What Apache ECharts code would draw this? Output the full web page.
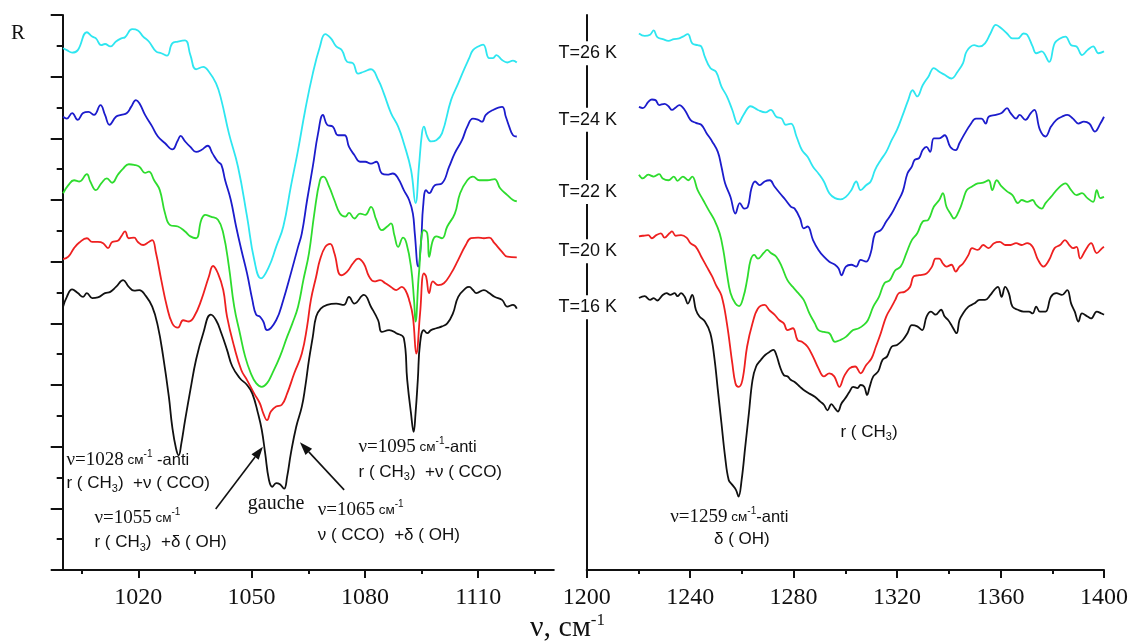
<!DOCTYPE html>
<html>
<head>
<meta charset="utf-8">
<script src="https://cdn.jsdelivr.net/npm/echarts@6/dist/echarts.min.js"></script>
<style>
  html, body { margin: 0; padding: 0; background: #ffffff; }
  #chart { width: 1134px; height: 641px; }
</style>
</head>
<body>
<div id="chart"></div>
<script>
// Reflection spectra of ethanol film, curves offset vertically (R, arb. units).
// Left window: 1000-1120 cm^-1, right window: 1220-1400 cm^-1.

const temps = ['T=26 K', 'T=24 K', 'T=22 K', 'T=20 K', 'T=16 K'];
const colors = ['#2ee6f0', '#1c1ccc', '#2edc2e', '#ee2020', '#111111'];

// ---- left window ----
const wnL26 = [1000.1,1001.1,1002.5,1004.0,1006.4,1007.8,1008.8,1010.2,1011.2,1012.6,1014.1,1015.5,1016.5,1018.4,1019.9,1021.3,1022.8,1024.7,1026.1,1027.6,1029.0,1030.5,1032.4,1033.8,1035.3,1037.2,1038.7,1040.6,1042.0,1044.0,1046.4,1048.8,1050.7,1052.5,1054.6,1056.5,1058.4,1060.4,1062.3,1064.2,1066.2,1068.1,1069.5,1071.0,1072.4,1073.9,1075.3,1076.8,1078.2,1079.7,1081.6,1083.5,1085.0,1086.9,1088.8,1090.3,1092.2,1093.4,1094.3,1095.1,1095.6,1096.5,1097.5,1098.9,1100.4,1102.8,1104.7,1106.2,1107.6,1108.6,1110.0,1111.3,1112.9,1113.9,1114.8,1116.3,1117.7,1119.2,1120.2];
const rL26 = [8.46,8.43,8.39,8.43,8.72,8.65,8.62,8.51,8.53,8.49,8.57,8.62,8.64,8.77,8.75,8.65,8.57,8.41,8.38,8.34,8.54,8.57,8.59,8.35,8.12,8.16,8.08,7.89,7.62,7.08,6.54,5.73,5.03,4.73,4.92,5.24,5.57,6.22,6.81,7.46,8.05,8.49,8.69,8.62,8.49,8.43,8.24,8.22,8.05,8.08,8.12,7.95,7.73,7.41,7.19,6.92,6.49,5.95,6.54,7.08,7.19,7.03,6.95,6.97,7.08,7.62,7.89,8.11,8.30,8.43,8.49,8.52,8.30,8.30,8.35,8.27,8.23,8.26,8.23];

const wnL24 = [1000.1,1001.1,1002.5,1004.0,1005.4,1006.8,1008.3,1010.0,1011.2,1012.4,1014.1,1015.5,1017.0,1018.1,1019.4,1020.3,1021.8,1023.7,1025.2,1027.1,1029.0,1030.5,1031.2,1032.4,1033.8,1035.3,1036.7,1038.4,1039.6,1041.1,1042.0,1043.0,1044.5,1045.9,1047.3,1048.8,1050.2,1051.2,1052.2,1053.1,1054.1,1056.5,1058.4,1060.4,1062.3,1063.3,1064.7,1066.2,1067.6,1068.9,1070.0,1071.5,1072.9,1074.6,1075.8,1077.2,1078.7,1080.1,1081.6,1083.0,1084.5,1085.9,1087.4,1088.8,1090.3,1091.7,1092.7,1093.2,1094.1,1094.9,1095.4,1096.2,1097.0,1098.5,1100.4,1102.3,1103.8,1105.7,1107.1,1108.6,1110.0,1111.0,1112.0,1113.9,1116.3,1117.3,1118.2,1119.2,1120.2];
const rL24 = [7.35,7.32,7.41,7.30,7.41,7.43,7.38,7.54,7.38,7.22,7.35,7.38,7.41,7.51,7.62,7.57,7.38,7.19,7.03,6.92,6.82,6.97,7.04,6.95,6.86,6.78,6.81,6.88,6.76,6.62,6.57,6.32,6.00,5.57,5.19,4.81,4.38,4.14,4.11,4.03,3.89,4.05,4.38,4.81,5.24,5.46,6.00,6.54,7.08,7.38,7.22,7.19,7.05,7.05,6.86,6.73,6.62,6.62,6.59,6.62,6.43,6.41,6.43,6.35,6.16,6.00,5.78,5.46,4.92,5.35,5.89,6.16,6.11,6.24,6.27,6.54,6.76,6.97,7.19,7.32,7.30,7.27,7.38,7.46,7.51,7.35,7.19,7.05,7.03];

const wnL22 = [1000.1,1001.5,1003.0,1004.4,1006.4,1007.3,1008.8,1010.2,1011.7,1013.1,1014.6,1016.0,1017.5,1018.9,1020.3,1021.8,1022.8,1024.2,1025.7,1027.1,1028.5,1030.5,1032.4,1033.8,1035.3,1036.7,1037.7,1039.2,1041.1,1042.5,1044.0,1045.4,1046.9,1048.3,1049.8,1051.2,1052.7,1054.1,1055.5,1057.5,1059.4,1060.8,1062.3,1063.7,1065.2,1066.6,1068.1,1069.0,1070.5,1071.9,1073.4,1074.8,1075.8,1077.2,1078.7,1080.1,1081.6,1083.0,1084.5,1085.9,1086.9,1087.8,1088.8,1090.1,1091.0,1092.2,1093.0,1093.4,1094.3,1095.6,1096.5,1097.0,1098.0,1098.9,1100.4,1101.8,1103.8,1105.2,1107.1,1108.6,1110.3,1112.4,1114.3,1115.8,1117.7,1119.2,1120.2];
const rL22 = [6.11,6.24,6.32,6.30,6.42,6.30,6.16,6.27,6.35,6.28,6.41,6.51,6.58,6.57,6.54,6.44,6.46,6.32,6.16,5.78,5.59,5.57,5.49,5.41,5.38,5.68,5.76,5.73,5.68,5.46,4.92,4.27,3.84,3.46,3.19,3.03,2.97,3.03,3.19,3.46,3.78,4.00,4.27,4.70,5.14,5.78,6.32,6.38,6.22,6.00,5.78,5.73,5.79,5.70,5.78,5.76,5.89,5.68,5.51,5.57,5.62,5.43,5.24,5.39,5.30,4.92,4.38,4.03,4.81,5.51,5.46,5.08,5.35,5.41,5.38,5.57,5.78,6.11,6.32,6.38,6.32,6.32,6.34,6.19,6.08,6.00,5.98];

const wnL20 = [1000.1,1001.5,1003.0,1004.4,1006.4,1007.8,1009.3,1010.7,1012.0,1013.1,1014.6,1015.5,1016.5,1017.5,1018.9,1019.9,1021.3,1022.8,1023.7,1024.7,1026.1,1027.6,1029.0,1030.5,1031.9,1033.4,1034.8,1036.7,1038.7,1039.8,1041.1,1042.5,1043.5,1045.4,1047.3,1048.8,1050.7,1052.2,1053.1,1054.1,1055.1,1056.5,1058.0,1059.4,1061.3,1063.3,1064.7,1065.7,1067.1,1068.1,1069.5,1070.8,1071.9,1073.7,1075.3,1076.8,1078.2,1079.7,1081.1,1082.5,1084.0,1085.4,1086.9,1088.3,1089.8,1090.7,1091.7,1092.7,1093.6,1094.6,1095.6,1096.2,1097.0,1098.0,1099.4,1100.9,1102.8,1104.7,1106.7,1108.1,1110.0,1111.5,1112.9,1114.3,1116.3,1117.7,1120.2];
const rL20 = [5.04,5.08,5.22,5.31,5.38,5.32,5.32,5.30,5.22,5.32,5.34,5.41,5.49,5.38,5.39,5.32,5.27,5.32,5.35,5.14,4.70,4.27,4.00,3.93,4.05,4.03,4.11,4.38,4.76,4.93,4.81,4.54,4.11,3.62,3.24,3.08,2.86,2.70,2.54,2.43,2.57,2.65,2.68,2.86,3.19,3.51,3.95,4.38,4.76,5.03,5.24,5.29,5.14,4.78,4.84,4.97,5.05,4.97,4.76,4.68,4.70,4.65,4.59,4.54,4.59,4.54,4.38,4.11,3.51,4.16,4.81,4.76,4.49,4.68,4.62,4.65,4.81,5.03,5.27,5.38,5.39,5.38,5.39,5.30,5.16,5.08,5.07];

const wnL16 = [1000.1,1001.1,1002.5,1004.0,1005.4,1006.4,1007.8,1009.3,1011.2,1012.6,1014.1,1016.0,1017.5,1018.9,1020.3,1021.8,1023.7,1025.2,1026.6,1028.1,1029.0,1030.0,1030.7,1031.4,1032.4,1033.8,1035.3,1037.2,1039.2,1040.6,1042.0,1043.5,1044.9,1046.9,1048.8,1050.2,1051.7,1052.7,1053.6,1054.6,1055.5,1056.5,1057.5,1058.6,1059.4,1060.4,1061.8,1063.3,1064.2,1065.2,1066.2,1067.1,1068.3,1070.0,1072.4,1074.4,1075.8,1077.2,1079.7,1081.6,1083.5,1084.5,1086.4,1088.3,1090.3,1091.2,1092.2,1092.9,1093.4,1094.0,1094.6,1095.6,1096.5,1097.5,1098.9,1100.4,1101.8,1103.3,1104.7,1106.7,1107.6,1108.6,1109.5,1111.5,1112.9,1114.3,1116.3,1117.7,1119.2,1120.2];
const rL16 = [4.27,4.43,4.55,4.49,4.43,4.49,4.41,4.42,4.49,4.51,4.59,4.70,4.59,4.53,4.54,4.46,4.27,3.95,3.46,2.81,2.32,1.97,1.86,2.05,2.43,2.92,3.41,3.84,4.14,4.05,3.84,3.57,3.30,3.11,3.00,2.86,2.54,2.27,1.89,1.46,1.35,1.41,1.39,1.32,1.51,1.89,2.32,2.65,2.97,3.41,3.78,4.11,4.24,4.30,4.32,4.30,4.43,4.32,4.46,4.27,4.05,3.86,3.89,3.84,3.76,3.08,2.54,2.24,2.54,3.08,3.68,3.89,3.84,3.89,3.92,3.95,4.00,4.16,4.43,4.57,4.59,4.54,4.49,4.54,4.49,4.43,4.38,4.27,4.30,4.24];

// ---- right window ----
const wnR26 = [1220.2,1222.4,1224.5,1225.9,1227.3,1229.4,1231.6,1233.7,1235.8,1237.2,1239.1,1240.8,1242.9,1244.3,1245.7,1247.8,1250.0,1252.1,1254.2,1256.3,1258.5,1260.6,1263.4,1266.2,1269.1,1271.2,1273.3,1275.4,1276.9,1279.0,1281.1,1283.2,1285.4,1287.5,1289.6,1291.7,1293.8,1296.0,1298.1,1300.2,1302.3,1304.2,1305.9,1308.0,1309.8,1311.5,1313.7,1315.8,1317.9,1320.0,1322.2,1324.3,1326.0,1327.8,1329.9,1332.1,1334.2,1336.3,1338.4,1341.0,1343.4,1345.5,1346.9,1349.8,1351.9,1354.0,1356.1,1358.2,1360.4,1362.5,1364.6,1366.7,1368.9,1370.3,1372.4,1373.8,1375.9,1378.8,1380.9,1383.0,1385.1,1387.3,1389.4,1391.5,1393.6,1395.8,1397.9,1400.0];
const rR26 = [8.70,8.66,8.68,8.75,8.64,8.61,8.58,8.61,8.62,8.65,8.69,8.54,8.51,8.49,8.32,8.14,8.08,7.84,7.68,7.46,7.23,7.38,7.52,7.46,7.42,7.46,7.35,7.32,7.22,7.24,7.03,6.81,6.70,6.54,6.43,6.30,6.11,6.03,6.01,6.05,6.16,6.30,6.16,6.24,6.30,6.49,6.65,6.78,6.97,7.14,7.38,7.62,7.78,7.68,7.86,8.00,8.14,8.08,8.03,7.97,8.08,8.22,8.41,8.51,8.49,8.54,8.70,8.84,8.78,8.70,8.62,8.62,8.70,8.68,8.49,8.38,8.41,8.24,8.54,8.62,8.65,8.51,8.49,8.35,8.43,8.49,8.38,8.41];

const wnR24 = [1220.2,1221.7,1223.8,1225.2,1226.6,1228.0,1230.1,1231.6,1233.0,1234.4,1235.8,1237.9,1240.1,1242.2,1244.3,1246.4,1248.5,1250.7,1252.1,1253.5,1255.6,1257.5,1259.2,1260.9,1262.3,1263.7,1265.1,1266.9,1268.8,1270.8,1272.6,1274.7,1276.9,1279.0,1280.4,1282.5,1283.9,1285.4,1287.5,1289.6,1291.7,1293.8,1296.0,1297.4,1298.5,1300.2,1302.3,1304.2,1305.9,1308.0,1309.8,1311.5,1313.7,1315.8,1317.9,1320.0,1322.2,1324.0,1325.7,1326.8,1328.5,1329.9,1331.4,1332.8,1334.2,1336.3,1338.4,1340.6,1342.7,1344.1,1346.2,1348.3,1350.5,1352.6,1354.3,1355.4,1358.2,1360.4,1362.5,1363.9,1366.0,1367.4,1369.6,1371.7,1373.1,1375.2,1377.4,1379.5,1381.6,1383.7,1385.8,1388.0,1390.1,1392.2,1394.3,1396.5,1398.6,1400.0];
const rR24 = [7.51,7.49,7.59,7.63,7.62,7.54,7.56,7.52,7.46,7.50,7.54,7.46,7.30,7.25,7.22,7.08,6.95,6.78,6.54,6.27,6.05,5.78,5.95,5.86,5.89,6.19,6.30,6.24,6.30,6.32,6.22,6.11,6.00,5.89,5.86,5.70,5.54,5.57,5.35,5.19,5.08,5.00,4.95,4.89,4.78,4.92,4.95,4.92,5.03,5.00,5.14,5.46,5.51,5.65,5.78,5.95,6.14,6.43,6.54,6.65,6.68,6.81,6.86,6.78,7.00,7.00,7.05,6.86,6.81,6.92,7.08,7.22,7.32,7.32,7.24,7.35,7.38,7.41,7.49,7.41,7.32,7.38,7.30,7.41,7.46,7.14,7.03,7.19,7.30,7.35,7.38,7.32,7.24,7.27,7.24,7.11,7.24,7.35];

const wnR22 = [1220.2,1221.7,1223.8,1225.9,1228.0,1229.4,1231.6,1233.7,1235.1,1237.2,1239.3,1240.8,1242.9,1245.0,1247.1,1249.3,1251.4,1252.8,1254.2,1255.6,1257.5,1258.9,1260.6,1262.0,1263.4,1264.8,1266.2,1268.4,1269.8,1271.2,1273.3,1275.4,1277.6,1279.7,1281.8,1283.9,1286.1,1288.2,1289.6,1291.7,1293.8,1296.0,1298.1,1300.2,1303.0,1305.2,1307.0,1308.7,1310.8,1313.0,1315.1,1317.2,1319.3,1321.4,1323.6,1325.7,1327.8,1329.9,1332.1,1334.2,1336.3,1337.7,1339.1,1340.6,1342.0,1344.1,1345.5,1346.9,1349.0,1351.2,1353.3,1355.4,1356.8,1358.5,1360.4,1362.5,1364.6,1366.7,1368.2,1370.3,1372.4,1373.8,1375.9,1377.4,1379.5,1382.3,1385.1,1387.3,1389.4,1391.5,1393.6,1395.8,1397.2,1398.6,1400.0];
const rR22 = [6.41,6.35,6.41,6.38,6.42,6.35,6.32,6.38,6.31,6.38,6.32,6.38,6.16,6.00,5.84,5.68,5.46,5.19,4.81,4.49,4.32,4.28,4.43,4.70,5.03,5.11,5.05,5.14,5.19,5.14,5.08,4.92,4.70,4.59,4.49,4.38,4.16,4.00,3.89,3.86,3.84,3.70,3.73,3.78,3.89,3.92,3.97,4.05,4.27,4.43,4.65,4.70,4.86,4.92,5.14,5.35,5.46,5.65,5.68,5.89,6.00,6.11,5.89,5.78,5.70,5.84,6.00,6.16,6.22,6.27,6.28,6.32,6.16,6.32,6.22,6.14,6.08,5.95,6.00,5.97,6.00,5.92,5.86,5.95,6.05,6.19,6.27,6.16,6.08,6.11,6.03,5.97,6.16,6.03,6.05];

const wnR20 = [1220.2,1221.7,1223.8,1225.2,1226.9,1228.7,1230.1,1232.0,1233.0,1234.4,1236.5,1238.6,1240.1,1242.2,1244.3,1246.4,1248.5,1250.0,1252.1,1254.2,1256.3,1257.5,1258.7,1260.2,1262.0,1264.1,1266.2,1268.8,1270.5,1272.6,1274.5,1276.2,1277.6,1279.7,1281.5,1283.2,1285.4,1287.5,1289.6,1291.7,1293.8,1295.7,1297.7,1299.5,1301.6,1303.8,1305.9,1308.0,1310.1,1311.8,1313.7,1315.8,1317.9,1319.3,1320.7,1322.9,1325.0,1326.4,1328.5,1331.4,1333.5,1334.9,1336.3,1337.7,1339.1,1341.0,1342.7,1344.1,1345.5,1347.6,1349.0,1351.2,1353.3,1355.4,1357.5,1359.7,1361.8,1363.9,1366.0,1368.2,1370.3,1372.4,1374.5,1376.6,1378.8,1380.9,1383.0,1384.9,1386.6,1388.0,1389.4,1390.8,1392.9,1395.0,1397.2,1399.3,1400.0];
const rR20 = [5.41,5.42,5.43,5.38,5.43,5.46,5.39,5.46,5.49,5.42,5.43,5.39,5.30,5.24,5.08,4.92,4.76,4.62,4.45,4.00,3.35,3.03,2.97,3.08,3.62,4.00,4.24,4.30,4.22,4.14,4.05,4.00,3.89,3.92,3.73,3.70,3.62,3.46,3.27,3.14,3.19,3.14,2.97,3.14,3.27,3.30,3.19,3.32,3.43,3.62,3.84,4.11,4.27,4.38,4.49,4.51,4.59,4.76,4.78,4.81,4.92,5.05,5.05,4.97,4.92,4.95,4.84,4.92,4.97,5.11,5.22,5.19,5.27,5.22,5.30,5.32,5.27,5.27,5.30,5.27,5.30,5.24,5.03,4.92,5.03,5.22,5.27,5.35,5.27,5.22,5.24,5.05,5.19,5.30,5.14,5.22,5.24];

const wnR16 = [1220.2,1222.4,1224.5,1225.9,1227.3,1229.4,1230.9,1232.3,1234.0,1235.1,1236.5,1237.9,1239.1,1240.8,1242.2,1243.6,1245.7,1247.8,1249.3,1250.7,1252.1,1253.5,1254.9,1256.3,1257.7,1258.7,1259.9,1261.3,1262.7,1264.1,1265.5,1267.4,1269.1,1270.8,1272.2,1273.3,1274.7,1276.2,1277.6,1279.0,1280.4,1282.5,1283.9,1286.1,1288.2,1290.3,1291.7,1293.1,1294.6,1296.0,1297.1,1298.5,1299.9,1301.6,1303.0,1304.7,1305.9,1307.3,1308.4,1309.4,1310.8,1312.7,1314.4,1316.1,1317.9,1320.0,1322.2,1324.0,1325.7,1327.8,1329.7,1331.4,1333.1,1334.9,1337.0,1338.4,1339.8,1341.3,1343.0,1344.1,1345.5,1347.6,1349.8,1351.9,1354.0,1356.1,1357.5,1359.0,1360.4,1361.8,1363.2,1364.6,1366.7,1368.9,1371.0,1372.4,1373.8,1375.2,1377.4,1379.5,1381.6,1383.7,1385.8,1387.3,1388.7,1390.1,1391.5,1393.6,1395.0,1397.2,1399.0,1400.0];
const rR16 = [4.41,4.44,4.38,4.41,4.37,4.46,4.49,4.46,4.49,4.44,4.49,4.43,4.32,4.46,4.22,4.11,4.03,3.84,3.46,2.92,2.38,1.84,1.46,1.38,1.30,1.19,1.46,2.00,2.54,3.08,3.30,3.41,3.49,3.54,3.57,3.49,3.30,3.16,3.14,3.08,3.05,2.97,2.92,2.86,2.81,2.73,2.68,2.59,2.69,2.62,2.57,2.70,2.78,2.89,2.97,2.95,3.00,2.97,2.84,2.97,3.14,3.22,3.41,3.46,3.62,3.65,3.73,3.84,3.97,3.95,3.89,4.11,4.19,4.14,4.22,4.11,4.05,3.95,3.84,4.05,4.16,4.27,4.32,4.38,4.38,4.46,4.54,4.59,4.43,4.59,4.49,4.27,4.22,4.19,4.19,4.16,4.27,4.19,4.19,4.43,4.49,4.46,4.54,4.32,4.19,4.03,4.16,4.11,4.08,4.19,4.16,4.14];

// axis tick values
const leftMajorTicks = [1020, 1050, 1080, 1110];
const leftMinorTicks = [1005, 1035, 1065, 1095, 1125];

const leftSets = [[wnL26, rL26], [wnL24, rL24], [wnL22, rL22], [wnL20, rL20], [wnL16, rL16]];
const rightSets = [[wnR26, rR26], [wnR24, rR24], [wnR22, rR22], [wnR20, rR20], [wnR16, rR16]];

const zip = (xs, ys) => xs.map((x, i) => [x, ys[i]]);

const SERIF = '"Liberation Serif", "Times New Roman", serif';
const SANS = '"Liberation Sans", Arial, sans-serif';
const INK = '#111111';

const series = [];
leftSets.forEach((s, i) => series.push({
  name: temps[i] + ' (1000-1120)', type: 'line', xAxisIndex: 0, yAxisIndex: 0,
  data: zip(s[0], s[1]), showSymbol: false, symbol: 'none', smooth: 0.45,
  lineStyle: { color: colors[i], width: 1.8 }, itemStyle: { color: colors[i] },
  silent: true, animation: false
}));
rightSets.forEach((s, i) => series.push({
  name: temps[i] + ' (1220-1400)', type: 'line', xAxisIndex: 2, yAxisIndex: 1,
  data: zip(s[0], s[1]), showSymbol: false, symbol: 'none', smooth: 0.4,
  lineStyle: { color: colors[i], width: 1.8 }, itemStyle: { color: colors[i] },
  silent: true, animation: false
}));

const axisLineStyle = { color: INK, width: 2 };
const tickFont = { fontFamily: SERIF, fontSize: 24, color: INK };
const plain = v => String(v);

const option = {
  animation: false,
  backgroundColor: '#ffffff',
  grid: [
    { left: 62.7, top: 15, width: 491.1, height: 555 },
    { left: 586.7, top: 15, width: 517.3, height: 555 }
  ],
  xAxis: [
    {
      gridIndex: 0, type: 'value', min: 1000, max: 1130,
      axisLine: { show: true, lineStyle: axisLineStyle },
      axisTick: { show: true, customValues: leftMajorTicks, length: 8, lineStyle: axisLineStyle },
      axisLabel: Object.assign({ show: true, customValues: leftMajorTicks, margin: 16, formatter: plain }, tickFont),
      splitLine: { show: false }
    },
    {
      gridIndex: 0, type: 'value', min: 1000, max: 1130, position: 'bottom',
      axisLine: { show: false },
      axisTick: { show: true, customValues: leftMinorTicks, length: 4, lineStyle: axisLineStyle },
      axisLabel: { show: false },
      splitLine: { show: false }
    },
    {
      gridIndex: 1, type: 'value', min: 1200, max: 1400, interval: 40,
      axisLine: { show: true, lineStyle: axisLineStyle },
      axisTick: { show: true, length: 8, lineStyle: axisLineStyle },
      minorTick: { show: true, splitNumber: 2, length: 4, lineStyle: axisLineStyle },
      axisLabel: Object.assign({ show: true, margin: 16, formatter: plain }, tickFont),
      splitLine: { show: false }, minorSplitLine: { show: false }
    }
  ],
  yAxis: [
    {
      gridIndex: 0, type: 'value', min: 0, max: 9, interval: 1,
      axisLine: { show: true, lineStyle: axisLineStyle },
      axisTick: { show: true, length: 12, lineStyle: axisLineStyle },
      minorTick: { show: true, splitNumber: 2, length: 6, lineStyle: axisLineStyle },
      axisLabel: { show: false },
      splitLine: { show: false }, minorSplitLine: { show: false }
    },
    {
      gridIndex: 1, type: 'value', min: 0, max: 9, interval: 1,
      axisLine: { show: true, lineStyle: axisLineStyle },
      axisTick: { show: false },
      axisLabel: { show: false },
      splitLine: { show: false }
    }
  ],
  series: series
};

const chart = echarts.init(document.getElementById('chart'), null, { renderer: 'canvas' });
chart.setOption(option);

// ---- annotations placed in data coordinates ----
const rich = {
  n: { fontFamily: SERIF, fontSize: 19, fill: INK, lineHeight: 22 },
  c: { fontFamily: SANS, fontSize: 13.5, fill: INK, lineHeight: 22 },
  s: { fontFamily: SANS, fontSize: 10, fill: INK, lineHeight: 13, verticalAlign: 'top' },
  a: { fontFamily: SANS, fontSize: 16.5, fill: INK, lineHeight: 22 },
  t: { fontFamily: SANS, fontSize: 17, fill: INK, lineHeight: 22 },
  b: { fontFamily: SANS, fontSize: 11, fill: INK, lineHeight: 15, verticalAlign: 'bottom' },
  g: { fontFamily: SERIF, fontSize: 20, fill: INK, lineHeight: 22 }
};

const notes = [
  { panel: 0, at: [1001.0, 1.78], text: '{n|ν=1028}{c| см}{s|-1}{a| -anti}' },
  { panel: 0, at: [1001.0, 1.41], text: '{t|r ( CH}{b|3}{t|)  +ν ( CCO)}' },
  { panel: 0, at: [1008.4, 0.84], text: '{n|ν=1055}{c| см}{s|-1}' },
  { panel: 0, at: [1008.4, 0.45], text: '{t|r ( CH}{b|3}{t|)  +δ ( OH)}' },
  { panel: 0, at: [1049.0, 1.07], text: '{g|gauche}' },
  { panel: 0, at: [1067.5, 0.97], text: '{n|ν=1065}{c| см}{s|-1}' },
  { panel: 0, at: [1067.5, 0.57], text: '{t|ν ( CCO)  +δ ( OH)}' },
  { panel: 0, at: [1078.3, 1.99], text: '{n|ν=1095}{c| см}{s|-1}{a|-anti}' },
  { panel: 0, at: [1078.3, 1.59], text: '{t|r ( CH}{b|3}{t|)  +ν ( CCO)}' },
  { panel: 1, at: [1232.3, 0.86], text: '{n|ν=1259}{c| см}{s|-1}{a|-anti}' },
  { panel: 1, at: [1249.2, 0.49], text: '{t|δ ( OH)}' },
  { panel: 1, at: [1298.1, 2.24], text: '{t|r ( CH}{b|3}{t|)}' }
];

const arrows = [
  { panel: 0, from: [1040.5, 0.99], to: [1053.0, 2.00] },
  { panel: 0, from: [1074.5, 1.30], to: [1062.8, 2.07] }
];

const tempLabelY = [8.38, 7.30, 6.13, 5.17, 4.26];

function toPx(panel, pt) {
  return chart.convertToPixel({ seriesIndex: panel === 0 ? 0 : 5 }, pt);
}

const graphics = [];

notes.forEach(n => {
  const p = toPx(n.panel, n.at);
  graphics.push({
    type: 'text', x: p[0], y: p[1], z: 100, silent: true,
    style: { text: n.text, rich: rich, align: 'left', verticalAlign: 'middle', fill: INK }
  });
});

arrows.forEach(a => {
  const p0 = toPx(a.panel, a.from);
  const p1 = toPx(a.panel, a.to);
  const dx = p1[0] - p0[0], dy = p1[1] - p0[1];
  const len = Math.sqrt(dx * dx + dy * dy);
  const ux = dx / len, uy = dy / len;
  const headLen = 13, headHalf = 4.5;
  const bx = p1[0] - ux * headLen, by = p1[1] - uy * headLen;
  graphics.push({
    type: 'line', z: 100, silent: true,
    shape: { x1: p0[0], y1: p0[1], x2: bx, y2: by },
    style: { stroke: INK, lineWidth: 1.6 }
  });
  graphics.push({
    type: 'polygon', z: 100, silent: true,
    shape: { points: [[p1[0], p1[1]], [bx - uy * headHalf, by + ux * headHalf], [bx + uy * headHalf, by - ux * headHalf]] },
    style: { fill: INK }
  });
});

temps.forEach((t, i) => {
  const p = toPx(1, [1200, tempLabelY[i]]);
  graphics.push({
    type: 'text', x: p[0] + 1, y: p[1], z: 100, silent: true,
    style: {
      text: t, fontFamily: SANS, fontSize: 18, fill: INK,
      align: 'center', verticalAlign: 'middle',
      backgroundColor: '#ffffff', padding: [3, 2]
    }
  });
});

// panel-level labels: ordinate name and shared abscissa name
graphics.push({
  type: 'text', x: 11, y: 33, z: 100, silent: true,
  style: { text: 'R', fontFamily: SERIF, fontSize: 21, fill: INK, align: 'left', verticalAlign: 'middle' }
});
graphics.push({
  type: 'text', x: 530, y: 628, z: 100, silent: true,
  style: {
    text: '{v|ν, см}{p|-1}', align: 'left', verticalAlign: 'middle',
    rich: {
      v: { fontFamily: SERIF, fontSize: 30, fill: INK, lineHeight: 32 },
      p: { fontFamily: SERIF, fontSize: 17, fill: INK, lineHeight: 20, verticalAlign: 'top' }
    }
  }
});

chart.setOption({ graphic: { elements: graphics } });
</script>
</body>
</html>
